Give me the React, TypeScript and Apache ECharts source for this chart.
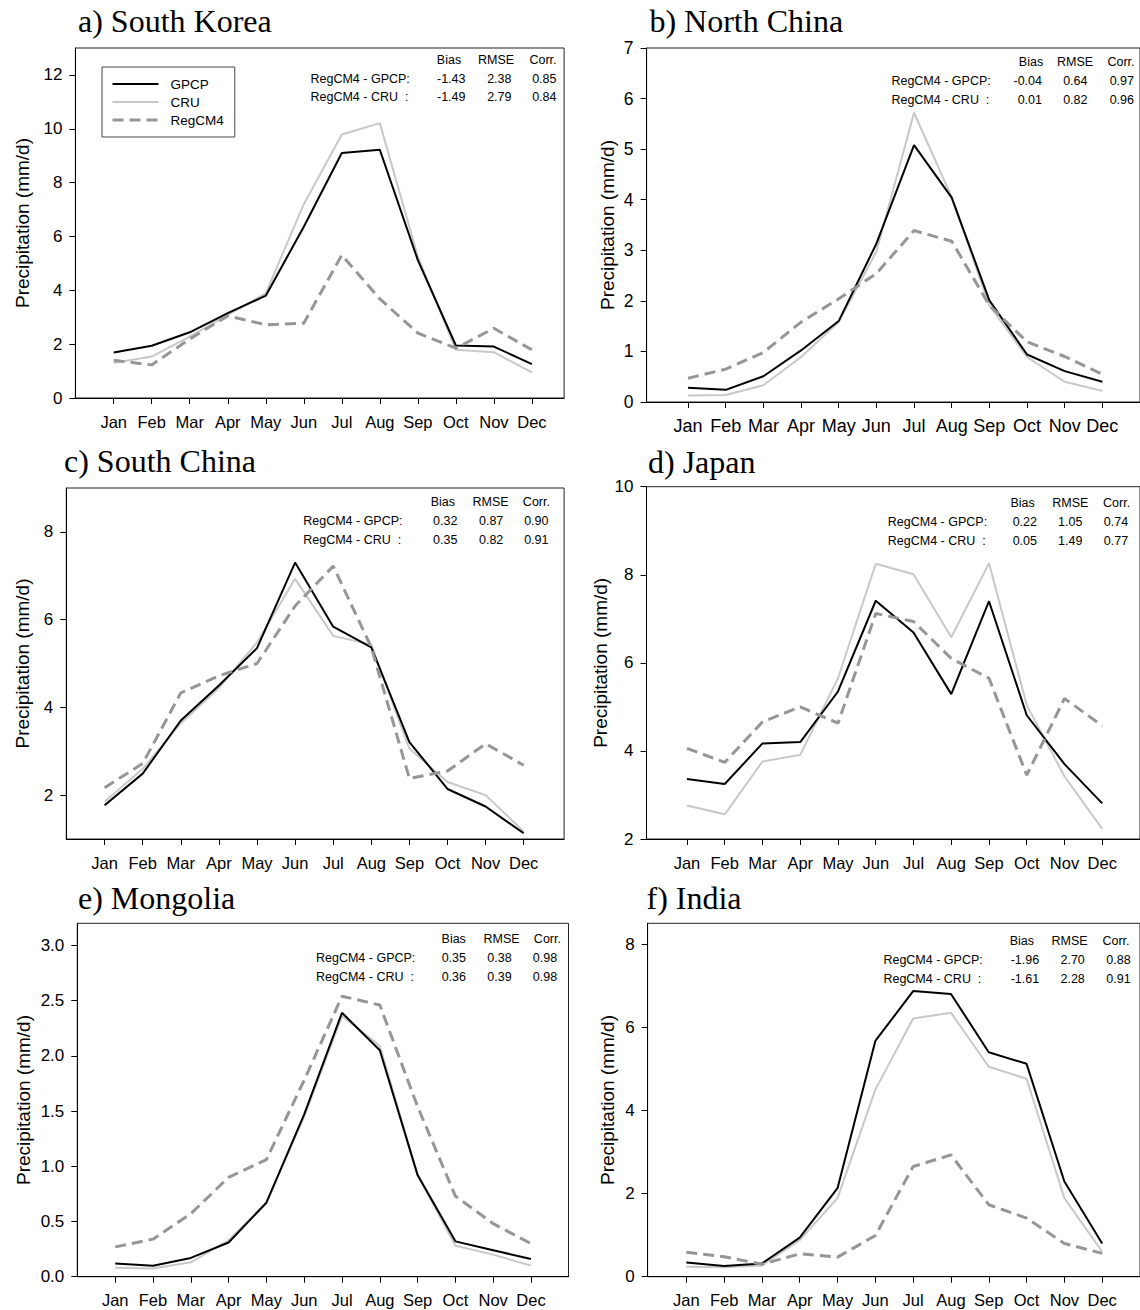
import React, { useEffect, useRef } from "react";
import * as echarts from "echarts";

// ---------- data ----------
const months = ["Jan", "Feb", "Mar", "Apr", "May", "Jun", "Jul", "Aug", "Sep", "Oct", "Nov", "Dec"];
const monthPos = months.map((_, i) => i + 1);
const seriesNames = ["GPCP", "CRU", "RegCM4"];
const statHeaders = ["Bias", "RMSE", "Corr."];
const statRowLabels = ["RegCM4 - GPCP:", "RegCM4 - CRU  :"];

const koreaGpcp = [1.69, 1.94, 2.44, 3.15, 3.8, 6.36, 9.1, 9.22, 5.12, 1.95, 1.91, 1.26];
const koreaCru = [1.3, 1.54, 2.28, 3.09, 3.89, 7.2, 9.79, 10.21, 5.25, 1.79, 1.7, 0.95];
const koreaReg = [1.4, 1.23, 2.19, 3.05, 2.72, 2.78, 5.31, 3.68, 2.41, 1.85, 2.59, 1.79];
const koreaStats = [["-1.43", "2.38", "0.85"], ["-1.49", "2.79", "0.84"]];
const koreaTicks = [0, 2, 4, 6, 8, 10, 12];

const northGpcp = [0.28, 0.24, 0.51, 1.02, 1.6, 3.13, 5.08, 4.04, 2.01, 0.94, 0.61, 0.4];
const northCru = [0.13, 0.14, 0.33, 0.89, 1.58, 2.97, 5.72, 4.05, 1.91, 0.89, 0.4, 0.22];
const northReg = [0.47, 0.65, 0.98, 1.58, 2.04, 2.54, 3.39, 3.18, 1.91, 1.19, 0.9, 0.55];
const northStats = [["-0.04", "0.64", "0.97"], ["0.01", "0.82", "0.96"]];
const northTicks = [0, 1, 2, 3, 4, 5, 6, 7];

const southGpcp = [1.77, 2.49, 3.7, 4.5, 5.35, 7.3, 5.84, 5.37, 3.21, 2.14, 1.74, 1.13];
const southCru = [1.85, 2.6, 3.64, 4.44, 5.48, 6.93, 5.63, 5.43, 3.06, 2.3, 2.0, 1.17];
const southReg = [2.17, 2.72, 4.33, 4.72, 5.0, 6.31, 7.22, 5.37, 2.38, 2.55, 3.17, 2.68];
const southStats = [["0.32", "0.87", "0.90"], ["0.35", "0.82", "0.91"]];
const southTicks = [2, 4, 6, 8];

const japanGpcp = [3.36, 3.25, 4.17, 4.2, 5.35, 7.41, 6.69, 5.29, 7.4, 4.81, 3.7, 2.81];
const japanCru = [2.76, 2.56, 3.76, 3.91, 5.65, 8.25, 8.01, 6.58, 8.26, 5.04, 3.42, 2.23];
const japanReg = [4.06, 3.74, 4.66, 5.0, 4.63, 7.12, 6.94, 6.1, 5.65, 3.45, 5.19, 4.57];
const japanStats = [["0.22", "1.05", "0.74"], ["0.05", "1.49", "0.77"]];
const japanTicks = [2, 4, 6, 8, 10];

const mongoliaGpcp = [0.12, 0.1, 0.17, 0.31, 0.67, 1.47, 2.39, 2.05, 0.92, 0.32, 0.24, 0.16];
const mongoliaCru = [0.08, 0.075, 0.13, 0.33, 0.67, 1.45, 2.36, 2.09, 0.92, 0.28, 0.2, 0.1];
const mongoliaReg = [0.27, 0.34, 0.57, 0.9, 1.06, 1.78, 2.54, 2.46, 1.54, 0.73, 0.48, 0.3];
const mongoliaStats = [["0.35", "0.38", "0.98"], ["0.36", "0.39", "0.98"]];
const mongoliaTicks = [0, 0.5, 1.0, 1.5, 2.0, 2.5, 3.0];

const indiaGpcp = [0.34, 0.26, 0.32, 0.94, 2.13, 5.67, 6.87, 6.8, 5.4, 5.12, 2.29, 0.8];
const indiaCru = [0.24, 0.23, 0.27, 0.88, 1.89, 4.5, 6.21, 6.35, 5.05, 4.76, 1.89, 0.6];
const indiaReg = [0.59, 0.48, 0.3, 0.55, 0.47, 0.99, 2.65, 2.93, 1.73, 1.41, 0.8, 0.56];
const indiaStats = [["-1.96", "2.70", "0.88"], ["-1.61", "2.28", "0.91"]];
const indiaTicks = [0, 2, 4, 6, 8];

// ---------- layout ----------
const SANS = "'Liberation Sans', Arial, sans-serif";
const SERIF = "'Liberation Serif', 'Times New Roman', serif";

const panels = [
  {
    title: "a) South Korea", gpcp: koreaGpcp, cru: koreaCru, reg: koreaReg, stats: koreaStats, yTicks: koreaTicks,
    yMin: 0, yMax: 13, dec: 0, left: 75.4, top: 48, bottom: 398, right: 564.1, janX: 113.7, decX: 531.9,
    xFont: 16.5, yFont: 17, nameGap: 43, titleX: 78, titleY: 21.4,
    labelX: 310.5, colR: [465.5, 511.5, 556.5], hdr: [449, 496, 543], rows: [60, 78.7, 97.3],
  },
  {
    title: "b) North China", gpcp: northGpcp, cru: northCru, reg: northReg, stats: northStats, yTicks: northTicks,
    yMin: 0, yMax: 7, dec: 0, left: 646.6, top: 48, bottom: 402, right: null, janX: 688.6, decX: 1108.3,
    xFont: 18, yFont: 17.5, nameGap: 30, titleX: 649.4, titleY: 21.4,
    labelX: 891.4, colR: [1042, 1087.5, 1134], hdr: [1031, 1075, 1121], rows: [61.7, 81, 100],
  },
  {
    title: "c) South China", gpcp: southGpcp, cru: southCru, reg: southReg, stats: southStats, yTicks: southTicks,
    yMin: 1, yMax: 9, dec: 0, left: 66.3, top: 488, bottom: 839, right: 564.1, janX: 104.6, decX: 523.7,
    xFont: 16.5, yFont: 17, nameGap: 34, titleX: 64, titleY: 461.4,
    labelX: 303.2, colR: [457.4, 503.3, 548.5], hdr: [442.8, 490.5, 536.4], rows: [501.7, 520.7, 540],
  },
  {
    title: "d) Japan", gpcp: japanGpcp, cru: japanCru, reg: japanReg, stats: japanStats, yTicks: japanTicks,
    yMin: 2, yMax: 10, dec: 0, left: 646.5, top: 486.7, bottom: 839, right: null, janX: 687.3, decX: 1105.7,
    xFont: 16.5, yFont: 17, nameGap: 37, titleX: 648, titleY: 461.6,
    labelX: 887.8, colR: [1037, 1082.4, 1128.2], hdr: [1022.6, 1070.4, 1116.6], rows: [502.7, 521.7, 540.7],
  },
  {
    title: "e) Mongolia", gpcp: mongoliaGpcp, cru: mongoliaCru, reg: mongoliaReg, stats: mongoliaStats, yTicks: mongoliaTicks,
    yMin: 0, yMax: 3.2, dec: 1, left: 77.3, top: 923.3, bottom: 1276.7, right: 568.5, janX: 115.2, decX: 531,
    xFont: 16.5, yFont: 17, nameGap: 44, titleX: 78, titleY: 897.5,
    labelX: 316, colR: [466, 511.6, 557.2], hdr: [453.7, 501.5, 547.4], rows: [939.3, 958.3, 977.3],
  },
  {
    title: "f) India", gpcp: indiaGpcp, cru: indiaCru, reg: indiaReg, stats: indiaStats, yTicks: indiaTicks,
    yMin: 0, yMax: 8.5, dec: 0, left: 647.6, top: 923.3, bottom: 1276.7, right: null, janX: 686.6, decX: 1105.7,
    xFont: 16.5, yFont: 17, nameGap: 31, titleX: 646.5, titleY: 897.5,
    labelX: 883.4, colR: [1039.2, 1084.8, 1130.6], hdr: [1021.9, 1069.6, 1116], rows: [940.7, 960, 979.3],
  },
];

const lineStyles: Record<string, any> = {
  GPCP: { color: "#000000", width: 2, type: "solid" },
  CRU: { color: "#c8c8c8", width: 2, type: "solid" },
  RegCM4: { color: "#969696", width: 3, type: [11, 6] },
};

function buildOption() {
  const grid: any[] = [];
  const xAxis: any[] = [];
  const yAxis: any[] = [];
  const series: any[] = [];
  const graphic: any[] = [];

  panels.forEach((p, k) => {
    const sp = (p.decX - p.janX) / 11;
    const right = p.right != null ? p.right : p.decX + sp;
    const xMin = 1 - (p.janX - p.left) / sp;
    const xMax = 12 + (right - p.decX) / sp;

    grid.push({
      left: p.left, top: p.top, width: right - p.left, height: p.bottom - p.top,
      show: true, borderColor: "#222", borderWidth: 1, backgroundColor: "transparent",
    });
    xAxis.push({
      type: "value", gridIndex: k, min: xMin, max: xMax,
      axisLine: { show: true, onZero: false, lineStyle: { color: "#000", width: 1 } },
      axisTick: { show: true, length: 6, customValues: monthPos, lineStyle: { color: "#000", width: 1 } },
      axisLabel: {
        customValues: monthPos,
        formatter: (v: number) => months[Math.round(v) - 1] || "",
        fontSize: p.xFont, fontFamily: SANS, color: "#000", margin: 15,
      },
      splitLine: { show: false },
    });
    yAxis.push({
      type: "value", gridIndex: k, min: p.yMin, max: p.yMax,
      name: "Precipitation (mm/d)", nameLocation: "middle", nameGap: p.nameGap,
      nameTextStyle: { fontSize: 19, fontFamily: SANS, color: "#000" },
      axisLine: { show: true, onZero: false, lineStyle: { color: "#000", width: 1 } },
      axisTick: { show: true, length: 6, customValues: p.yTicks, lineStyle: { color: "#000", width: 1 } },
      axisLabel: {
        customValues: p.yTicks,
        formatter: (v: number) => v.toFixed(p.dec),
        fontSize: p.yFont, fontFamily: SANS, color: "#000", margin: 13,
      },
      splitLine: { show: false },
    });

    const dataBy: Record<string, number[]> = { GPCP: p.gpcp, CRU: p.cru, RegCM4: p.reg };
    ["CRU", "GPCP", "RegCM4"].forEach((name) => {
      series.push({
        type: "line", name, xAxisIndex: k, yAxisIndex: k,
        data: dataBy[name].map((v, i) => [monthPos[i], v]),
        symbol: "none", showSymbol: false, smooth: false,
        lineStyle: lineStyles[name], itemStyle: { color: lineStyles[name].color },
        emphasis: { disabled: true }, silent: true,
      });
    });

    graphic.push({
      type: "text", x: p.titleX, y: p.titleY, silent: true,
      style: { text: p.title, fontSize: 32, fontFamily: SERIF, fill: "#000", textAlign: "left", textVerticalAlign: "middle" },
    });
    statHeaders.forEach((h, j) => {
      graphic.push({
        type: "text", x: p.hdr[j], y: p.rows[0], silent: true,
        style: { text: h, fontSize: 12.5, fontFamily: SANS, fill: "#000", textAlign: "center", textVerticalAlign: "middle" },
      });
    });
    statRowLabels.forEach((lab, r) => {
      graphic.push({
        type: "text", x: p.labelX, y: p.rows[r + 1], silent: true,
        style: { text: lab, fontSize: 12.5, fontFamily: SANS, fill: "#000", textAlign: "left", textVerticalAlign: "middle" },
      });
      p.stats[r].forEach((val, j) => {
        graphic.push({
          type: "text", x: p.colR[j], y: p.rows[r + 1], silent: true,
          style: { text: val, fontSize: 12.5, fontFamily: SANS, fill: "#000", textAlign: "right", textVerticalAlign: "middle" },
        });
      });
    });
  });

  return {
    animation: false,
    backgroundColor: "#ffffff",
    grid, xAxis, yAxis, series, graphic,
    legend: {
      data: seriesNames, orient: "vertical", left: 102, top: 67,
      itemWidth: 46, itemHeight: 14, itemGap: 4,
      padding: [10, 11, 10, 9],
      borderColor: "#444", borderWidth: 1, backgroundColor: "#fff",
      selectedMode: false,
      lineStyle: { width: "inherit" },
      itemStyle: { opacity: 0, color: "transparent", borderColor: "transparent", borderWidth: 0 },
      textStyle: { fontSize: 13.5, fontFamily: SANS, color: "#000", padding: [0, 0, 0, 7] },
    },
  };
}

export default function App() {
  const ref = useRef<HTMLDivElement>(null);
  useEffect(() => {
    if (!ref.current) return;
    const chart = echarts.init(ref.current, undefined, { renderer: "svg" });
    chart.setOption(buildOption() as any);
    return () => chart.dispose();
  }, []);
  return (
    <div
      ref={ref}
      style={{ position: "absolute", left: 0, top: 0, width: 1140, height: 1310, background: "#fff" }}
    />
  );
}
